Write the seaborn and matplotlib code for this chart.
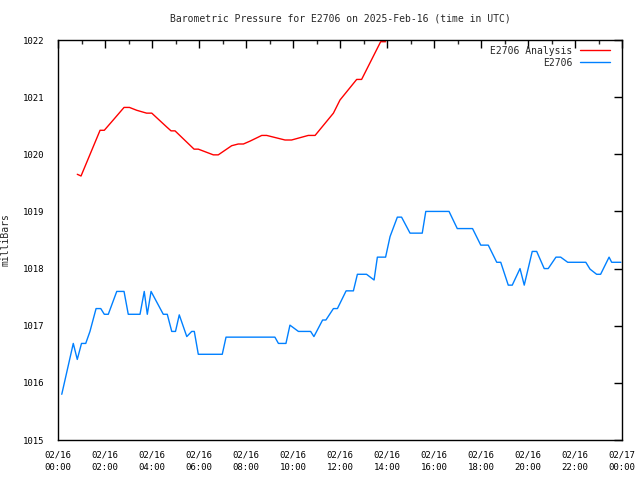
import numpy as np
import pandas as pd
import matplotlib
matplotlib.use("Agg")
import matplotlib.pyplot as plt
import matplotlib.dates as mdates
from matplotlib.ticker import MultipleLocator
import seaborn as sns

# Hours after 2025-02-16 00:00 UTC and pressure (mb)
analysis_hours = [0.82, 0.98, 1.79, 1.97, 2.35, 2.81, 3.04, 3.35, 3.77, 3.99, 4.62, 4.81, 4.98,
                  5.79, 5.97, 6.61, 6.82, 7.39, 7.67, 7.89, 8.17, 8.67, 8.88, 9.66, 9.94,
                  10.65, 10.94, 11.72, 12.0, 12.71, 12.92, 13.73, 13.94]
analysis_values = [1019.65, 1019.62, 1020.42, 1020.42, 1020.60, 1020.82, 1020.82, 1020.77, 1020.72,
                   1020.72, 1020.48, 1020.41, 1020.41, 1020.09, 1020.09, 1019.99, 1019.99, 1020.15,
                   1020.18, 1020.18, 1020.23, 1020.33, 1020.33, 1020.25, 1020.25, 1020.33, 1020.33,
                   1020.72, 1020.95, 1021.31, 1021.31, 1021.97, 1021.97]

obs_hours = [0.16, 0.65, 0.82, 1.0, 1.18, 1.36, 1.62, 1.82, 1.97, 2.14, 2.5, 2.81, 2.99, 3.49,
             3.67, 3.8, 3.96, 4.48, 4.65, 4.84, 5.0, 5.16, 5.48, 5.69, 5.8, 5.97, 6.99, 7.15,
             9.23, 9.38, 9.7, 9.87, 10.23, 10.75, 10.89, 11.26, 11.4, 11.72, 11.89, 12.26,
             12.57, 12.74, 13.13, 13.45, 13.59, 13.94, 14.13, 14.44, 14.62, 14.98, 15.5, 15.65,
             16.64, 16.99, 17.64, 17.99, 18.31, 18.67, 18.84, 19.16, 19.33, 19.66, 19.84, 20.18,
             20.37, 20.69, 20.86, 21.19, 21.39, 21.69, 22.46, 22.64, 22.92, 23.09, 23.45, 23.56,
             23.95]
obs_values = [1015.80, 1016.69, 1016.41, 1016.69, 1016.69, 1016.90, 1017.30, 1017.30, 1017.20,
              1017.20, 1017.60, 1017.60, 1017.20, 1017.20, 1017.60, 1017.20, 1017.60, 1017.20,
              1017.20, 1016.90, 1016.90, 1017.19, 1016.81, 1016.90, 1016.90, 1016.50, 1016.50,
              1016.80, 1016.80, 1016.69, 1016.69, 1017.01, 1016.90, 1016.90, 1016.81, 1017.10,
              1017.10, 1017.30, 1017.30, 1017.61, 1017.61, 1017.90, 1017.90, 1017.80, 1018.20,
              1018.20, 1018.56, 1018.90, 1018.90, 1018.62, 1018.62, 1019.00, 1019.00, 1018.70,
              1018.70, 1018.41, 1018.41, 1018.11, 1018.11, 1017.71, 1017.71, 1018.00, 1017.71,
              1018.30, 1018.30, 1018.00, 1018.00, 1018.20, 1018.20, 1018.11, 1018.11, 1017.99,
              1017.90, 1017.90, 1018.20, 1018.11, 1018.11]

title = "Barometric Pressure for E2706 on 2025-Feb-16 (time in UTC)"
ylabel = "milliBars"
series_names = ["E2706 Analysis", "E2706"]

start = pd.Timestamp("2025-02-16 00:00")
df_a = pd.DataFrame({"time": start + pd.to_timedelta(analysis_hours, unit="h"),
                     "value": analysis_values, "series": series_names[0]})
df_o = pd.DataFrame({"time": start + pd.to_timedelta(obs_hours, unit="h"),
                     "value": obs_values, "series": series_names[1]})
df = pd.concat([df_a, df_o], ignore_index=True)

sns.set_style("white")
plt.rcParams["font.family"] = ["DejaVu Sans Mono"]

fig = plt.figure(figsize=(6.4, 4.8), dpi=100)
ax = fig.add_axes([58/640, 40/480, 564/640, 400/480])

sns.lineplot(data=df, x="time", y="value", hue="series",
             palette={series_names[0]: "#ff0000", series_names[1]: "#0080ff"},
             linewidth=1.0, ax=ax, sort=False, estimator=None)

ax.set_xlim(start, start + pd.Timedelta(hours=24))
ax.set_ylim(1015, 1022)
ax.xaxis.set_major_locator(mdates.HourLocator(byhour=range(0, 24, 2)))
ax.xaxis.set_minor_locator(mdates.HourLocator())
ax.xaxis.set_major_formatter(mdates.DateFormatter("%m/%d\n%H:%M"))
ax.yaxis.set_major_locator(MultipleLocator(1))
ax.yaxis.set_major_formatter(matplotlib.ticker.FormatStrFormatter("%d"))

ax.tick_params(axis="both", which="major", direction="in", length=6, width=1,
               top=True, right=True, labelsize=6.5, colors="black")
ax.tick_params(axis="x", which="major", pad=7.5)
ax.tick_params(axis="y", which="major", pad=10)
ax.tick_params(axis="both", which="minor", direction="in", length=3, width=1,
               top=True, right=True)
for lbl in ax.get_xticklabels():
    lbl.set_linespacing(1.45)
for s in ax.spines.values():
    s.set_color("black")
    s.set_linewidth(1)

ax.set_xlabel("")
ax.set_ylabel(ylabel, fontsize=7)
ax.yaxis.set_label_coords(-0.085, 0.5)
ax.set_title(title, fontsize=7, pad=13)

leg = ax.legend(loc="upper right", bbox_to_anchor=(0.985, 0.995), frameon=False, fontsize=7,
                markerfirst=False, handlelength=3.0, borderaxespad=0.0, labelspacing=0.2,
                handletextpad=0.8)

fig.savefig("out.png", dpi=100)
